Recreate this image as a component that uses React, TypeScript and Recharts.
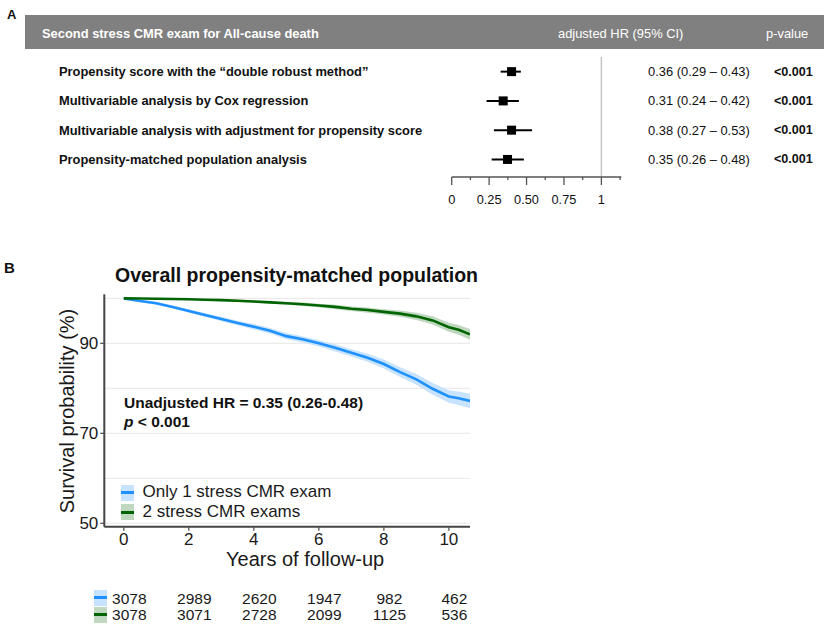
import { ScatterChart, Scatter, ComposedChart, Area, Line, XAxis, YAxis, CartesianGrid, ReferenceLine, ErrorBar } from 'recharts'

// ---- panel A: forest plot ----
const forestLabels = [
  'Propensity score with the \u201cdouble robust method\u201d',
  'Multivariable analysis by Cox regression',
  'Multivariable analysis with adjustment for propensity score',
  'Propensity-matched population analysis',
]
const forestHrText = ['0.36 (0.29 \u2013 0.43)', '0.31 (0.24 \u2013 0.42)', '0.38 (0.27 \u2013 0.53)', '0.35 (0.26 \u2013 0.48)']
const forestPText = ['<0.001', '<0.001', '<0.001', '<0.001']
// positions of the marks as drawn
const forestHr = [0.4, 0.344, 0.4, 0.373]
const forestLo = [0.327, 0.233, 0.282, 0.267]
const forestHi = [0.462, 0.449, 0.537, 0.482]
const forestTicks = [0, 0.125, 0.25, 0.375, 0.5, 0.625, 0.75, 0.875, 1, 1.125]
const forestTickLabels: Record<string, string> = { '0': '0', '0.25': '0.25', '0.5': '0.50', '0.75': '0.75', '1': '1' }

// ---- panel B: Kaplan-Meier ----
const kmYears = [0, 0.5, 1, 1.5, 2, 2.5, 3, 3.5, 4, 4.5, 5, 5.5, 6, 6.5, 7, 7.5, 8, 8.5, 9, 9.5, 10, 10.3, 10.65]
const oneExam = [100, 99.4, 98.9, 98.1, 97.2, 96.3, 95.4, 94.5, 93.7, 92.8, 91.6, 90.9, 90.0, 89.0, 87.9, 86.8, 85.4, 83.6, 82.0, 79.9, 78.2, 77.8, 77.2]
const oneExamLow = [100, 99.2, 98.6, 97.8, 96.8, 95.9, 94.9, 94.0, 93.1, 92.2, 90.9, 90.2, 89.3, 88.2, 87.1, 85.9, 84.4, 82.5, 80.8, 78.6, 76.8, 76.3, 75.6]
const oneExamHigh = [100, 99.6, 99.2, 98.4, 97.6, 96.7, 95.9, 95.0, 94.3, 93.4, 92.3, 91.6, 90.7, 89.8, 88.7, 87.7, 86.4, 84.7, 83.2, 81.2, 79.6, 79.3, 78.8]
const twoExams = [100, 99.95, 99.9, 99.85, 99.8, 99.7, 99.6, 99.45, 99.3, 99.1, 98.9, 98.7, 98.4, 98.1, 97.7, 97.4, 97.0, 96.6, 96.0, 95.1, 93.6, 93.0, 92.0]
const twoExamsLow = [100, 99.9, 99.8, 99.7, 99.6, 99.5, 99.35, 99.2, 99.0, 98.8, 98.55, 98.3, 98.0, 97.6, 97.2, 96.8, 96.4, 95.9, 95.2, 94.2, 92.6, 91.9, 90.8]
const twoExamsHigh = [100, 100, 100, 99.95, 99.95, 99.9, 99.8, 99.7, 99.55, 99.4, 99.2, 99.05, 98.8, 98.55, 98.2, 97.95, 97.6, 97.3, 96.8, 96.0, 94.6, 94.1, 93.2]

const riskYears = [0, 2, 4, 6, 8, 10]
const riskOne = [3078, 2989, 2620, 1947, 982, 462]
const riskTwo = [3078, 3071, 2728, 2099, 1125, 536]

const BLUE = '#1e90ff'
const GREEN = '#006400'
const BLUE_BAND = '#c7e3ff'
const GREEN_BAND = '#bfd8bf'
const FONT = '"Liberation Sans", Arial, Helvetica, sans-serif'

const forestData = forestHr.map((hr, i) => ({ row: i + 1, hr, err: [hr - forestLo[i], forestHi[i] - hr] }))

const kmData = kmYears.map((t, i) => ({
  t,
  one: oneExam[i],
  two: twoExams[i],
  oneBand: [oneExamLow[i], oneExamHigh[i]],
  twoBand: [twoExamsLow[i], twoExamsHigh[i]],
}))

const riskData = [
  ...riskYears.map((t, i) => ({ t, row: 1, n: riskOne[i] })),
  ...riskYears.map((t, i) => ({ t, row: 2, n: riskTwo[i] })),
]

function ForestXTick(props: any) {
  const { x, y, payload } = props
  const label = forestTickLabels[String(payload.value)]
  const major = label !== undefined
  return (
    <g>
      <line x1={x} x2={x} y1={y} y2={y + (major ? 8 : 3)} stroke="#555" strokeWidth={1.3} />
      {major && (
        <text x={x} y={y + 22} textAnchor="middle" dominantBaseline="central" fontSize={12.8} fill="#111">
          {label}
        </text>
      )}
    </g>
  )
}

function ForestYTick(props: any) {
  const { y, payload } = props
  const i = payload.value - 1
  return (
    <g fontSize={12.9} fill="#111">
      <text x={59} y={y} dominantBaseline="central" fontWeight="bold">{forestLabels[i]}</text>
      <text x={648} y={y} dominantBaseline="central">{forestHrText[i]}</text>
      <text x={774} y={y} dominantBaseline="central" fontWeight="bold" fontSize={12.6}>{forestPText[i]}</text>
    </g>
  )
}

function Square(props: any) {
  const { cx, cy } = props
  return <rect x={cx - 4.5} y={cy - 4.5} width={9} height={9} fill="#000" />
}

function KmYTick(props: any) {
  const { x, y, payload } = props
  if (payload.value % 20 !== 10) return null
  return (
    <g>
      <line x1={x - 4} x2={x} y1={y} y2={y} stroke="#555" strokeWidth={1.3} />
      <text x={x - 6} y={y} textAnchor="end" dominantBaseline="central" fontSize={17} fill="#1a1a1a">
        {payload.value}
      </text>
    </g>
  )
}

function RiskLabel(props: any) {
  const { cx, cy, payload } = props
  return (
    <text x={cx} y={cy} textAnchor="middle" dominantBaseline="central" fontSize={15.5} fill="#1a1a1a">
      {payload.n}
    </text>
  )
}

function Key({ band, color, left, top }: { band: string; color: string; left: number; top: number }) {
  return (
    <div style={{ position: 'absolute', left, top, width: 13, height: 16, background: band }}>
      <div style={{ position: 'absolute', left: 0, top: 6.5, width: 13, height: 3, background: color }} />
    </div>
  )
}

export default function App() {
  return (
    <div style={{ position: 'absolute', left: 0, top: 0, width: 829, height: 640, background: '#fff', fontFamily: FONT, color: '#111' }}>
      {/* panel A */}
      <div style={{ position: 'absolute', left: 7, top: 7, fontSize: 13, fontWeight: 'bold' }}>A</div>
      <div style={{ position: 'absolute', left: 25, top: 15, width: 799, height: 34, background: '#808080', color: '#fff', fontSize: 12.9 }}>
        <div style={{ position: 'absolute', left: 17, top: 10.5, fontWeight: 'bold' }}>Second stress CMR exam for All-cause death</div>
        <div style={{ position: 'absolute', left: 533, top: 10.5 }}>adjusted HR (95% CI)</div>
        <div style={{ position: 'absolute', left: 741, top: 10.5 }}>p-value</div>
      </div>
      <div style={{ position: 'absolute', left: 0, top: 0 }}>
        <ScatterChart width={829} height={215} margin={{ top: 57, right: 207.7, bottom: 0, left: 0 }}>
          <XAxis
            type="number"
            dataKey="hr"
            domain={[0, 1.133]}
            ticks={forestTicks}
            allowDataOverflow
            height={38}
            tickSize={0}
            tickMargin={0}
            tickLine={false}
            axisLine={{ stroke: '#555', strokeWidth: 1.3 }}
            tick={<ForestXTick />}
            interval={0}
          />
          <YAxis
            type="number"
            dataKey="row"
            domain={[0.5, 4.6]}
            ticks={[1, 2, 3, 4]}
            reversed
            width={451.7}
            axisLine={false}
            tickLine={false}
            tickSize={0}
            tickMargin={0}
            tick={<ForestYTick />}
            interval={0}
          />
          <ReferenceLine x={1} stroke="#c4c4c4" strokeWidth={1.5} />
          <Scatter data={forestData} shape={<Square />} isAnimationActive={false}>
            <ErrorBar dataKey="err" direction="x" width={0} stroke="#000" strokeWidth={2} />
          </Scatter>
        </ScatterChart>
      </div>

      {/* panel B */}
      <div style={{ position: 'absolute', left: 4, top: 259, fontSize: 15, fontWeight: 'bold' }}>B</div>
      <div style={{ position: 'absolute', left: 115, top: 262.5, fontSize: 19.5, fontWeight: 'bold', lineHeight: '24px', whiteSpace: 'nowrap' }}>
        Overall propensity-matched population
      </div>
      <div style={{ position: 'absolute', left: 0, top: 250 }}>
        <ComposedChart width={480} height={310} data={kmData} margin={{ top: 44.3, right: 10, bottom: 0, left: 0 }}>
          <CartesianGrid vertical={false} stroke="#ebebeb" strokeWidth={1.3} horizontalValues={[50, 60, 70, 80, 90, 100]} />
          <XAxis
            type="number"
            dataKey="t"
            domain={[-0.6, 10.65]}
            ticks={riskYears}
            allowDataOverflow
            height={33.3}
            tickSize={4}
            tickMargin={2}
            axisLine={{ stroke: '#444', strokeWidth: 2 }}
            tickLine={{ stroke: '#555', strokeWidth: 1.3 }}
            tick={{ fontSize: 17, fill: '#1a1a1a' }}
            interval={0}
          />
          <YAxis
            type="number"
            domain={[49.25, 100.9]}
            ticks={[50, 60, 70, 80, 90, 100]}
            allowDataOverflow
            width={104.3}
            tickSize={0}
            tickMargin={0}
            tickLine={false}
            axisLine={{ stroke: '#444', strokeWidth: 2 }}
            tick={<KmYTick />}
            interval={0}
          />
          <Area dataKey="oneBand" type="linear" stroke="none" fill={BLUE_BAND} fillOpacity={1} isAnimationActive={false} />
          <Area dataKey="twoBand" type="linear" stroke="none" fill={GREEN_BAND} fillOpacity={1} isAnimationActive={false} />
          <Line dataKey="one" type="linear" stroke={BLUE} strokeWidth={2.6} dot={false} isAnimationActive={false} />
          <Line dataKey="two" type="linear" stroke={GREEN} strokeWidth={2.6} dot={false} isAnimationActive={false} />
        </ComposedChart>
      </div>
      <div
        style={{
          position: 'absolute',
          left: 67,
          top: 411,
          transform: 'translate(-50%, -50%) rotate(-90deg)',
          fontSize: 20,
          whiteSpace: 'nowrap',
          color: '#1a1a1a',
        }}
      >
        Survival probability (%)
      </div>
      <div style={{ position: 'absolute', left: 226, top: 548, fontSize: 20, whiteSpace: 'nowrap', color: '#1a1a1a' }}>Years of follow-up</div>
      <div style={{ position: 'absolute', left: 124, top: 393, fontSize: 15.5, fontWeight: 'bold', lineHeight: '19px', whiteSpace: 'nowrap' }}>
        Unadjusted HR = 0.35 (0.26-0.48)
        <br />
        <i>p</i> &lt; 0.001
      </div>
      <Key band={BLUE_BAND} color={BLUE} left={120.5} top={484.5} />
      <Key band={GREEN_BAND} color={GREEN} left={120.5} top={504} />
      <div style={{ position: 'absolute', left: 142.5, top: 482, fontSize: 17, lineHeight: '20px', color: '#1a1a1a', whiteSpace: 'nowrap' }}>
        Only 1 stress CMR exam
        <br />2 stress CMR exams
      </div>

      {/* risk table */}
      <Key band={BLUE_BAND} color={BLUE} left={93.5} top={589.5} />
      <Key band={GREEN_BAND} color={GREEN} left={93.5} top={606.5} />
      <div style={{ position: 'absolute', left: 0, top: 585 }}>
        <ScatterChart width={480} height={42} margin={{ top: 5, right: 4.5, bottom: 5, left: 109.8 }}>
          <XAxis type="number" dataKey="t" domain={[-0.6, 10.65]} hide allowDataOverflow />
          <YAxis type="number" dataKey="row" domain={[0.5, 2.5]} reversed hide />
          <Scatter data={riskData} shape={<RiskLabel />} isAnimationActive={false} />
        </ScatterChart>
      </div>
    </div>
  )
}
